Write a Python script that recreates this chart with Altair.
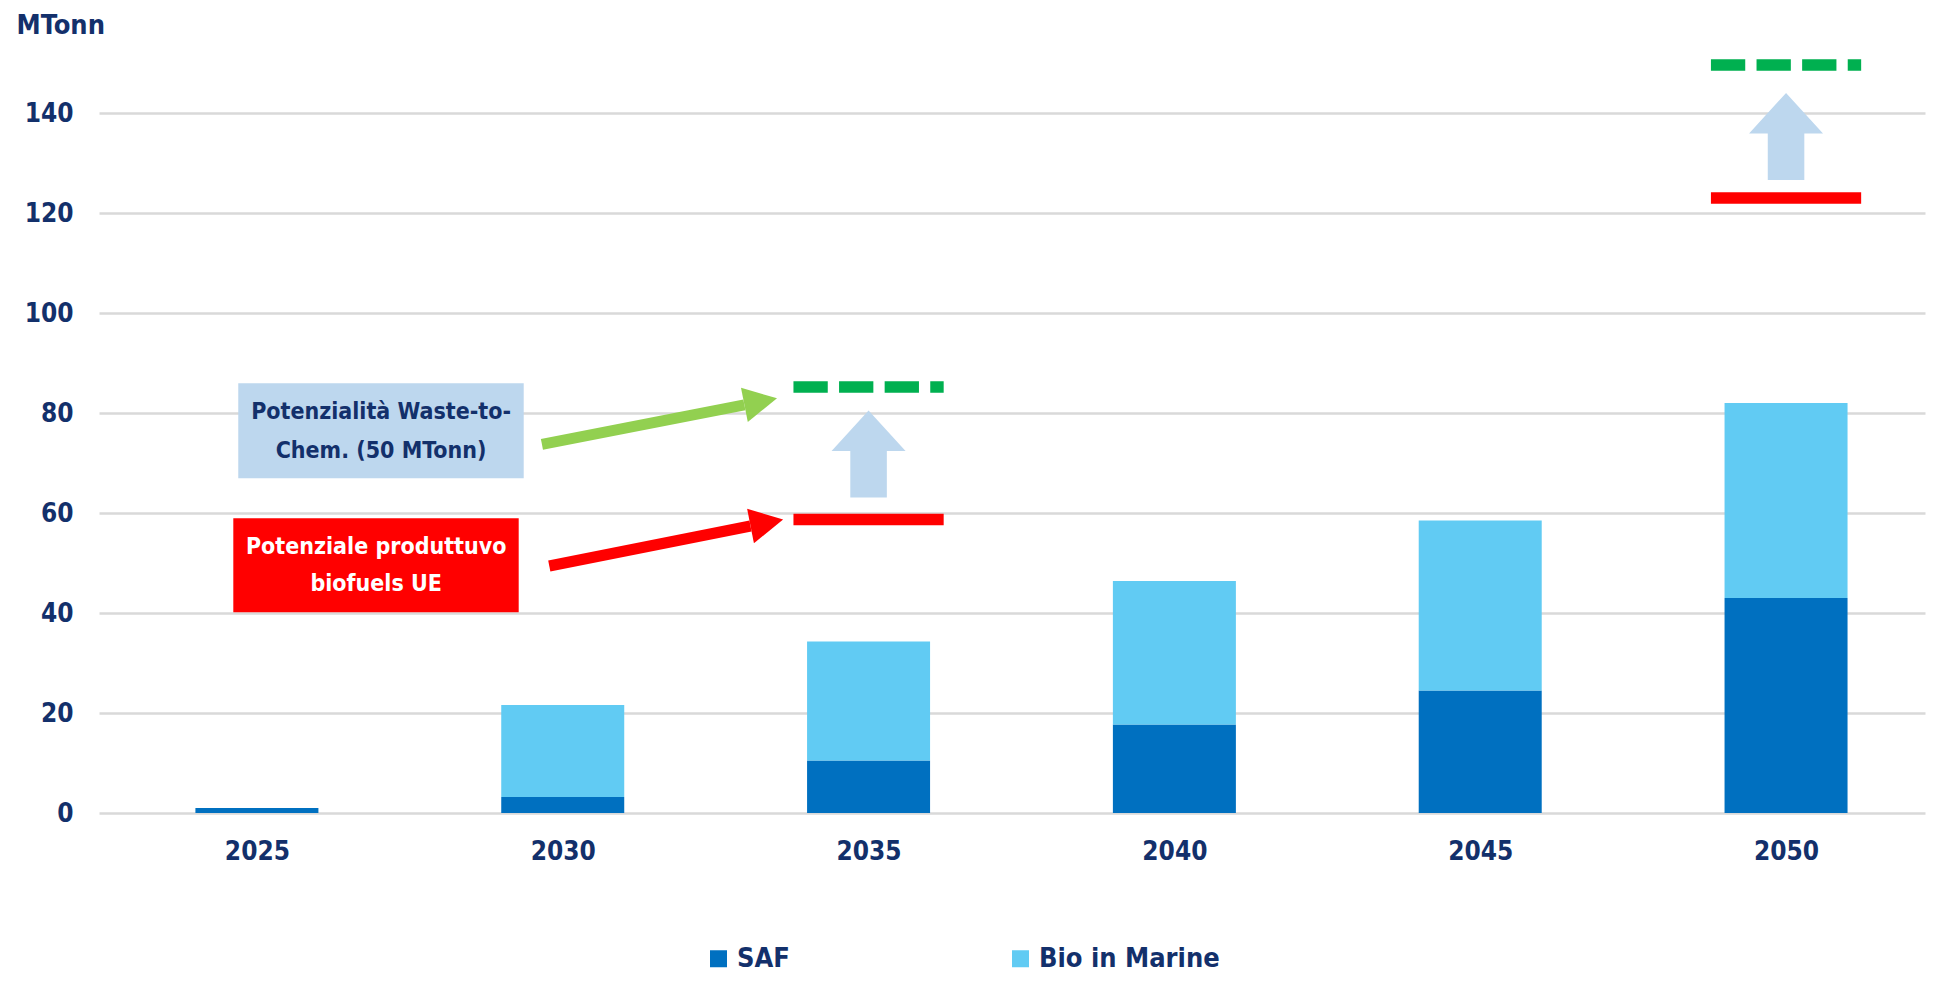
import altair as alt
import pandas as pd

# ---------------- data ----------------
years = [2025, 2030, 2035, 2040, 2045, 2050]
saf = [1.0, 3.2, 10.5, 17.7, 24.5, 43.0]
bio_marine = [0.0, 18.4, 23.8, 28.7, 34.0, 39.0]

series = ["SAF", "Bio in Marine"]
series_colors = ["#0070C0", "#61CBF3"]

y_ticks = [0, 20, 40, 60, 80, 100, 120, 140]

# potential markers
target_years = [2035, 2050]
eu_biofuel_potential = [58.7, 123.0]      # red solid line
waste_to_chem_potential = [85.2, 149.6]   # green dashed line
up_arrow_center = [71.8, 135.3]

# callout boxes
box_x0 = [2024.695, 2024.614]
box_x1 = [2029.362, 2029.280]
box_y0 = [66.94, 40.14]
box_y1 = [85.94, 58.94]
box_fill = ["#BDD7EE", "#FF0000"]

label_lines = ["Potenzialità Waste-to-", "Chem. (50 MTonn)",
               "Potenziale produttuvo", "biofuels UE"]
label_x = [2027.03, 2027.03, 2026.95, 2026.95]
label_y = [80.2, 72.5, 53.2, 45.9]

# callout arrows (shaft start -> head base)
callout_x0 = [2029.66, 2029.78]
callout_y0 = [73.74, 49.4]
callout_x1 = [2032.97, 2033.07]
callout_y1 = [81.64, 57.4]
callout_colors = ["#92D050", "#FF0000"]

# ---------------- styling ----------------
NAVY = "#13306B"
FONT = "DejaVu Sans Condensed, Liberation Sans Narrow, Roboto, sans-serif"
X_MIN, X_MAX = 2022.5, 2052.19
xscale = alt.Scale(domain=[X_MIN, X_MAX], nice=False, zero=False)
yscale = alt.Scale(domain=[0, 160], nice=False, zero=True)

# ---------------- tables ----------------
rows = []
for yr, s, b in zip(years, saf, bio_marine):
    rows.append({"year": yr, "serie": "SAF", "y0": 0.0, "y1": s})
    if b > 0:
        rows.append({"year": yr, "serie": "Bio in Marine", "y0": s, "y1": s + b})
bars_df = pd.DataFrame(rows)

markers_df = pd.DataFrame({
    "year": target_years,
    "eu": eu_biofuel_potential,
    "w2c": waste_to_chem_potential,
    "arrow": up_arrow_center,
})

boxes_df = pd.DataFrame({"x0": box_x0, "x1": box_x1, "y0": box_y0, "y1": box_y1, "fill": box_fill})
labels_df = pd.DataFrame({
    "txt": label_lines, "x": label_x, "y": label_y,
    "col": [NAVY, NAVY, "#FFFFFF", "#FFFFFF"],
})
callouts_df = pd.DataFrame({"x0": callout_x0, "y0": callout_y0, "x1": callout_x1,
                            "y1": callout_y1, "col": callout_colors})

# ---------------- layers ----------------
bars = alt.Chart(bars_df).mark_bar(size=123).encode(
    x=alt.X("year:Q", scale=xscale,
            axis=alt.Axis(values=years, format="d", title=None, grid=False, ticks=False,
                          domain=False, labelFontSize=26, labelFont=FONT,
                          labelFontWeight="bold", labelColor=NAVY, labelPadding=25)),
    y=alt.Y("y0:Q", scale=yscale,
            axis=alt.Axis(values=y_ticks, title="MTonn", titleAngle=0, titleX=-83, titleY=20,
                          titleAlign="left", titleBaseline="alphabetic", titleFontSize=27,
                          titleFont=FONT, titleColor=NAVY, titleFontWeight="bold",
                          grid=True, gridColor="#D9D9D9", gridWidth=2.5, ticks=False,
                          domain=False, labelFontSize=26, labelFont=FONT,
                          labelFontWeight="bold", labelColor=NAVY, labelPadding=26)),
    y2="y1:Q",
    color=alt.Color("serie:N", scale=alt.Scale(domain=series, range=series_colors),
                    legend=alt.Legend(title=None, orient="none", legendX=606, legendY=932,
                                      direction="horizontal", symbolType="square",
                                      symbolSize=289, symbolStrokeWidth=0,
                                      labelFontSize=27, labelFont=FONT, labelColor=NAVY,
                                      labelFontWeight="bold", columnPadding=217,
                                      labelOffset=5, labelLimit=400, padding=0)),
)

base_m = alt.Chart(markers_df).transform_calculate(
    xa="datum.year - 1.228", xb="datum.year + 1.228")

red_lines = base_m.mark_rule(color="#FF0000", strokeWidth=11.7, strokeCap="butt").encode(
    x=alt.X("xa:Q", scale=xscale), x2="xb:Q",
    y=alt.Y("eu:Q", scale=yscale))

green_lines = base_m.mark_rule(color="#00B050", strokeWidth=11.7, strokeCap="butt",
                               strokeDash=[34.3, 11.3]).encode(
    x=alt.X("xa:Q", scale=xscale), x2="xb:Q",
    y=alt.Y("w2c:Q", scale=yscale))

UP_ARROW = "M0,-1L0.85,-0.07L0.42,-0.07L0.42,1L-0.42,1L-0.42,-0.07L-0.85,-0.07Z"
up_arrows = alt.Chart(markers_df).mark_point(shape=UP_ARROW, size=7569, filled=True,
                                             color="#BDD7EE", opacity=1, strokeWidth=0).encode(
    x=alt.X("year:Q", scale=xscale),
    y=alt.Y("arrow:Q", scale=yscale))

boxes = alt.Chart(boxes_df).mark_rect().encode(
    x=alt.X("x0:Q", scale=xscale), x2="x1:Q",
    y=alt.Y("y0:Q", scale=yscale), y2="y1:Q",
    color=alt.Color("fill:N", scale=None))

labels = alt.Chart(labels_df).mark_text(font=FONT, fontSize=23, fontWeight="bold",
                                        align="center", baseline="middle").encode(
    x=alt.X("x:Q", scale=xscale),
    y=alt.Y("y:Q", scale=yscale),
    text="txt:N",
    color=alt.Color("col:N", scale=None))

shafts = alt.Chart(callouts_df).mark_rule(strokeWidth=11, strokeCap="butt").encode(
    x=alt.X("x0:Q", scale=xscale), x2="x1:Q",
    y=alt.Y("y0:Q", scale=yscale), y2="y1:Q",
    color=alt.Color("col:N", scale=None))

HEAD = "M0,-1L1.9,0L0,1Z"
heads = alt.Chart(callouts_df).mark_point(shape=HEAD, size=1225, filled=True, opacity=1,
                                          strokeWidth=0, angle=348.8).encode(
    x=alt.X("x1:Q", scale=xscale),
    y=alt.Y("y1:Q", scale=yscale),
    color=alt.Color("col:N", scale=None))

chart = alt.layer(
    bars, red_lines, green_lines, up_arrows, boxes, labels, shafts, heads
).resolve_scale(color="independent").properties(
    width=1826, height=800,
    autosize=alt.AutoSizeParams(type="none"),
    padding={"left": 91, "top": 5, "right": 8, "bottom": 164},
    background="#FFFFFF",
).configure_view(stroke=None)

chart.save("out.html", embed_options={"renderer": "svg", "actions": False})
